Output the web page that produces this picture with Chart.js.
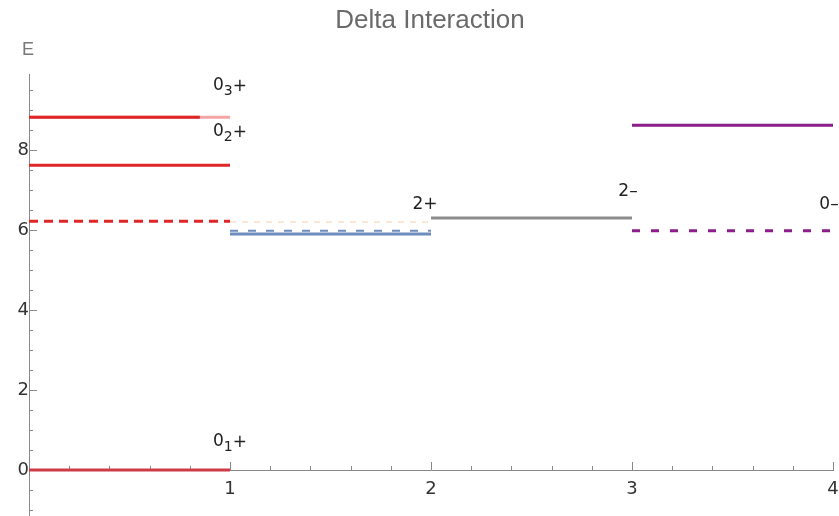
<!DOCTYPE html>
<html>
<head>
<meta charset="utf-8">
<script src="https://cdn.jsdelivr.net/npm/chart.js@4/dist/chart.umd.min.js"></script>
<style>
html,body{margin:0;padding:0;background:#fff;}
#wrap{width:839px;height:516px;position:relative;}
</style>
</head>
<body>
<div id="wrap"><canvas id="c" width="839" height="516"></canvas></div>
<script>
// ---- data ----
const chartTitle = 'Delta Interaction';
const yAxisTitle = 'E';
const xTickValues = [1, 2, 3, 4];
const yTickValues = [0, 2, 4, 6, 8];

// group spans on the x axis: [start, end]
const span0plus = [0, 1];
const span2plus = [1, 2];
const span2minus = [2, 3];
const span0minus = [3, 4];

// energies (E)
const zeroPlusSolid = [0.0, 7.62, 8.82];
const zeroPlusTopPartEnd = [0.85];      // red part of the top 0+ line ends here, rest is pale
const zeroPlusDashed = [6.22];
const twoPlusSolid = [5.90];
const twoPlusDashed = [5.98];
const twoPlusFaint = [6.20];
const twoMinusSolid = [6.30];
const zeroMinusSolid = [8.62];
const zeroMinusDashed = [5.98];

// state labels: base, subscript, parity, x, y
const labelBase = ['0', '0', '0', '2', '2', '0'];
const labelSub = ['3', '2', '1', '', '', ''];
const labelSign = ['+', '+', '+', '+', '\u2013', '\u2013'];
const labelX = [1.0, 1.0, 1.0, 1.97, 2.98, 3.98];
const labelY = [9.65, 8.5, 0.75, 6.67, 7.0, 6.67];

// ---- build datasets (dataset 0 is drawn on top) ----
function seg(span, v) { return [{x: span[0], y: v}, {x: span[1], y: v}]; }
const RED = 'rgb(222,38,38)';
const datasets = [];
function add(data, color, width, dash) {
  datasets.push({data, borderColor: color, borderWidth: width, borderDash: dash || [],
    pointRadius: 0, fill: false, tension: 0, borderCapStyle: 'butt'});
}
add(seg([span0plus[0], zeroPlusTopPartEnd[0]], zeroPlusSolid[2]), RED, 3);
add(seg(span0plus, zeroPlusSolid[2]), 'rgb(245,165,165)', 3);
add(seg(span0plus, zeroPlusSolid[1]), RED, 3);
add(seg(span0plus, zeroPlusSolid[0]), 'rgb(205,60,70)', 3);
add(seg(span0plus, zeroPlusDashed[0]), RED, 3, [9, 6]);
add(seg(span2plus, twoPlusDashed[0]), 'rgb(110,140,190)', 2, [8, 10]);
add(seg(span2plus, twoPlusSolid[0]), 'rgb(110,140,190)', 3);
add(seg(span2plus, twoPlusFaint[0]), 'rgba(250,200,160,0.45)', 2, [6, 6]);
add(seg(span2minus, twoMinusSolid[0]), 'rgb(140,140,140)', 3);
add(seg(span0minus, zeroMinusSolid[0]), 'rgb(140,30,140)', 3);
add(seg(span0minus, zeroMinusDashed[0]), 'rgb(140,30,140)', 3, [8, 11]);

const FONT = '"DejaVu Sans", sans-serif';

const decor = {
  id: 'decor',
  beforeDatasetsDraw(chart) {
    const ctx = chart.ctx, xs = chart.scales.x, ys = chart.scales.y;
    const x0 = xs.getPixelForValue(0), y0 = ys.getPixelForValue(0);
    ctx.save();
    ctx.strokeStyle = '#888';
    ctx.lineWidth = 1;
    ctx.beginPath();
    for (let k = -2; k <= 19; k++) {
      const v = k * 0.5;
      if (v < ys.min || v > ys.max) continue;
      const p = Math.round(ys.getPixelForValue(v)) + 0.5;
      const len = (k % 4 === 0) ? 8 : 4;
      ctx.moveTo(x0, p); ctx.lineTo(x0 + len, p);
    }
    for (let k = 1; k <= 20; k++) {
      const v = k * 0.2;
      const p = Math.round(xs.getPixelForValue(v)) + 0.5;
      const len = (k % 5 === 0) ? 8 : 4;
      ctx.moveTo(p, y0); ctx.lineTo(p, y0 - len);
    }
    ctx.stroke();
    ctx.restore();
  },
  afterDraw(chart) {
    const ctx = chart.ctx, xs = chart.scales.x, ys = chart.scales.y;
    ctx.save();
    ctx.fillStyle = '#6a6a6a';
    ctx.font = '26px "Liberation Sans", Arial, sans-serif';
    ctx.textAlign = 'center';
    ctx.textBaseline = 'middle';
    ctx.fillText(chartTitle, 430, 21);
    ctx.fillStyle = '#777';
    ctx.font = '18px "Liberation Sans", Arial, sans-serif';
    ctx.fillText(yAxisTitle, 28, 50);
    ctx.fillStyle = '#222';
    ctx.textBaseline = 'alphabetic';
    ctx.textAlign = 'left';
    for (let i = 0; i < labelBase.length; i++) {
      const big = '17px ' + FONT, small = '14px ' + FONT;
      ctx.font = big;
      const wb = ctx.measureText(labelBase[i]).width;
      const wsg = ctx.measureText(labelSign[i]).width;
      ctx.font = small;
      const ws = labelSub[i] ? ctx.measureText(labelSub[i]).width : 0;
      const total = wb + ws + wsg;
      let x = xs.getPixelForValue(labelX[i]) - total / 2;
      const y = ys.getPixelForValue(labelY[i]) + 6;
      ctx.font = big; ctx.fillText(labelBase[i], x, y); x += wb;
      if (labelSub[i]) { ctx.font = small; ctx.fillText(labelSub[i], x, y + 5); x += ws; }
      ctx.font = big; ctx.fillText(labelSign[i], x, y + (labelSub[i] ? 1 : 0));
    }
    ctx.restore();
  }
};

function zeroPad(s) {
  s.paddingLeft = 0; s.paddingRight = 0; s.paddingTop = 0; s.paddingBottom = 0;
}

new Chart(document.getElementById('c'), {
  type: 'line',
  data: {datasets},
  options: {
    responsive: false,
    animation: false,
    layout: {padding: {left: 29, right: 6, top: 74, bottom: 0}},
    plugins: {legend: {display: false}, title: {display: false}, tooltip: {enabled: false}},
    scales: {
      x: {
        type: 'linear', min: 0, max: 4, position: {y: 0},
        grid: {display: true, drawOnChartArea: false, drawTicks: false},
        border: {display: true, color: '#888', width: 1},
        afterBuildTicks(s) { s.ticks = xTickValues.map(v => ({value: v})); },
        afterFit: zeroPad,
        ticks: {padding: 9, color: '#333', font: {family: 'DejaVu Sans', size: 18}, maxRotation: 0}
      },
      y: {
        type: 'linear', min: -1.15, max: 9.9, position: {x: 0},
        grid: {display: true, drawOnChartArea: false, drawTicks: false},
        border: {display: true, color: '#888', width: 1},
        afterBuildTicks(s) { s.ticks = yTickValues.map(v => ({value: v})); },
        afterFit: zeroPad,
        ticks: {padding: 8, color: '#333', font: {family: 'DejaVu Sans', size: 18}}
      }
    }
  },
  plugins: [decor]
});
</script>
</body>
</html>
